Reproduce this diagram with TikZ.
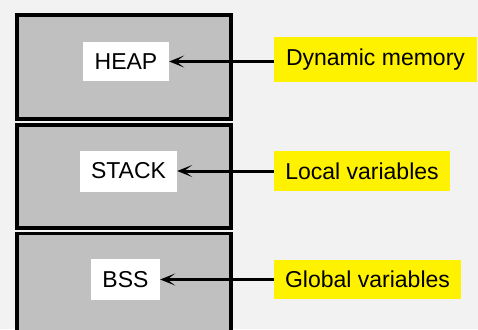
\documentclass[tikz,border=0pt]{standalone}
\usepackage{fontspec}
\setmainfont{Liberation Sans}
\usetikzlibrary{arrows.meta}
\definecolor{pagebg}{HTML}{F2F2F2}
\definecolor{segfill}{HTML}{C0C0C0}
\definecolor{notefill}{HTML}{FFF200}
\begin{document}
\begin{tikzpicture}[x=1bp,y=-1bp,
  segment/.style={draw=black, line width=3.8bp, fill=segfill, line join=miter},
  label text/.style={inner sep=0pt, font=\fontsize{23bp}{27bp}\selectfont},
  tag/.style={label text, fill=white},
  note/.style={label text, fill=notefill},
  pointer/.style={-{Stealth[length=15bp,width=12bp,inset=8bp]}, line width=3bp}]
  % canvas
  \fill[pagebg] (0,0) rectangle (478,329);
  \useasboundingbox (0,0) rectangle (478,329);
  % memory segments (the lowest one runs off the bottom edge)
  \begin{scope}
    \clip (0,0) rectangle (478,329);
    \draw[segment] (17,15.3) rectangle (231.3,118.6);
    \draw[segment] (17,125) rectangle (231.3,228);
    \draw[segment] (17,233.4) rectangle (231.3,340);
  \end{scope}
  % segment names
  \node[tag, minimum width=86bp, minimum height=39bp] (heap) at (126,61.5) {HEAP};
  \node[tag, minimum width=97bp, minimum height=41bp] (stack) at (128.5,171) {STACK};
  \node[tag, minimum width=69bp, minimum height=41bp] (bss) at (125.5,279.5) {BSS};
  % notes
  \node[note, minimum width=203bp, minimum height=44.5bp] (dyn) at (375.5,59.5) {Dynamic memory};
  \node[note, minimum width=176bp, minimum height=40bp] (loc) at (362,171) {Local variables};
  \node[note, minimum width=187bp, minimum height=39.5bp] (glob) at (367.5,279.5) {Global variables};
  % pointers
  \draw[pointer] (dyn.west |- heap.east) -- (heap.east);
  \draw[pointer] (loc.west |- stack.east) -- (stack.east);
  \draw[pointer] (glob.west |- bss.east) -- (bss.east);
\end{tikzpicture}
\end{document}
